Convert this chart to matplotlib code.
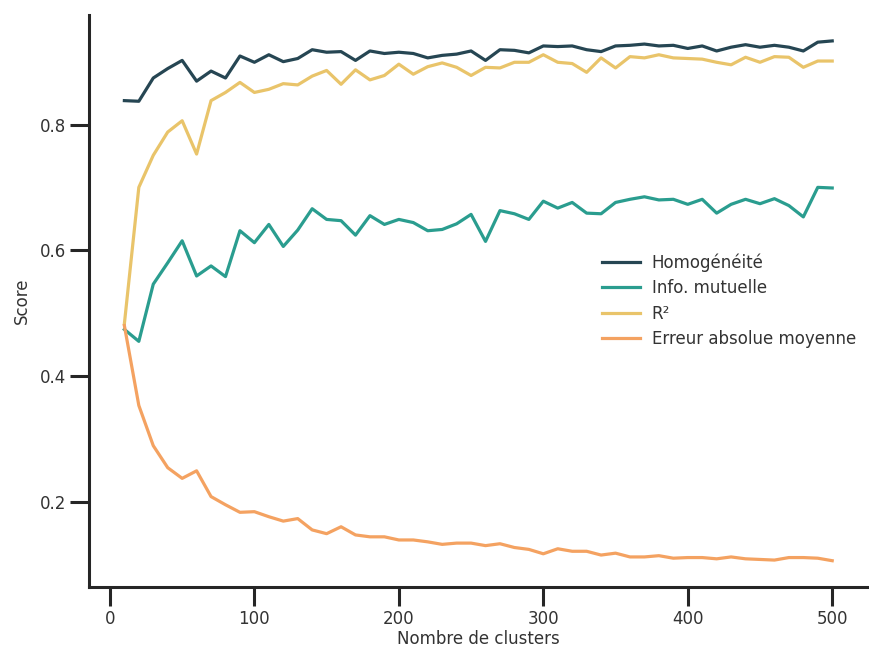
import matplotlib
matplotlib.use("Agg")
import matplotlib.pyplot as plt
import numpy as np

# number of clusters (x axis)
n_clusters = list(range(10, 501, 10))

homogeneite = [
    0.838, 0.837, 0.874, 0.889, 0.902, 0.869, 0.885, 0.874, 0.909, 0.899,
    0.911, 0.900, 0.905, 0.919, 0.915, 0.916, 0.902, 0.917, 0.913, 0.915,
    0.913, 0.906, 0.910, 0.912, 0.917, 0.902, 0.919, 0.918, 0.914, 0.925,
    0.924, 0.925, 0.919, 0.916, 0.925, 0.926, 0.928, 0.925, 0.926, 0.921,
    0.925, 0.917, 0.923, 0.927, 0.923, 0.926, 0.923, 0.917, 0.931, 0.933,
]
info_mutuelle = [
    0.474, 0.455, 0.546, 0.580, 0.615, 0.559, 0.575, 0.558, 0.631, 0.612,
    0.641, 0.606, 0.632, 0.666, 0.649, 0.647, 0.624, 0.655, 0.641, 0.649,
    0.644, 0.631, 0.633, 0.642, 0.657, 0.614, 0.663, 0.658, 0.649, 0.678,
    0.667, 0.676, 0.659, 0.658, 0.676, 0.681, 0.685, 0.680, 0.681, 0.673,
    0.681, 0.659, 0.673, 0.681, 0.674, 0.682, 0.671, 0.653, 0.700, 0.699,
]
r2 = [
    0.483, 0.700, 0.751, 0.788, 0.806, 0.753, 0.838, 0.851, 0.867, 0.851,
    0.856, 0.865, 0.863, 0.877, 0.886, 0.864, 0.887, 0.871, 0.878, 0.896,
    0.880, 0.892, 0.898, 0.891, 0.878, 0.891, 0.890, 0.899, 0.899, 0.911,
    0.899, 0.897, 0.883, 0.906, 0.890, 0.908, 0.906, 0.911, 0.906, 0.905,
    0.904, 0.899, 0.895, 0.907, 0.899, 0.908, 0.907, 0.891, 0.901, 0.901,
]
mae = [
    0.480, 0.353, 0.289, 0.254, 0.237, 0.249, 0.208, 0.195, 0.183, 0.184,
    0.176, 0.169, 0.173, 0.155, 0.149, 0.160, 0.147, 0.144, 0.144, 0.139,
    0.139, 0.136, 0.132, 0.134, 0.134, 0.130, 0.133, 0.127, 0.124, 0.117,
    0.125, 0.121, 0.121, 0.115, 0.118, 0.112, 0.112, 0.114, 0.110, 0.111,
    0.111, 0.109, 0.112, 0.109, 0.108, 0.107, 0.111, 0.111, 0.110, 0.106,
]

series = [
    ("Homogénéité", homogeneite, "#264653"),
    ("Info. mutuelle", info_mutuelle, "#2a9d8f"),
    ("R²", r2, "#e9c46a"),
    ("Erreur absolue moyenne", mae, "#f4a261"),
]

text_color = "#333333"
plt.rcParams["font.family"] = ["DejaVu Sans"]
plt.rcParams["font.size"] = 12

fig = plt.figure(figsize=(8.69, 6.49), dpi=100)
ax = fig.add_axes([0.1024, 0.096, 0.896, 0.881])

for label, vals, color in series:
    ax.plot(n_clusters, vals, color=color, linewidth=2.3, label=label)

ax.set_xticks([0, 100, 200, 300, 400, 500])
ax.set_yticks([0.2, 0.4, 0.6, 0.8])
ax.set_xlabel("Nombre de clusters", color=text_color, fontsize=12, labelpad=2)
ax.set_ylabel("Score", color=text_color, fontsize=12, labelpad=6)

for side in ["top", "right"]:
    ax.spines[side].set_visible(False)
for side in ["left", "bottom"]:
    ax.spines[side].set_linewidth(2.2)
    ax.spines[side].set_color("#262626")
ax.tick_params(axis="both", length=13.5, width=2.2, color="#262626",
               labelcolor=text_color, labelsize=12, pad=3)

leg = ax.legend(loc="center right", frameon=False, fontsize=12,
                handlelength=2.3, handletextpad=0.7, labelspacing=0.45,
                borderaxespad=0.3)
for t in leg.get_texts():
    t.set_color(text_color)

fig.savefig("out.png", dpi=100)
